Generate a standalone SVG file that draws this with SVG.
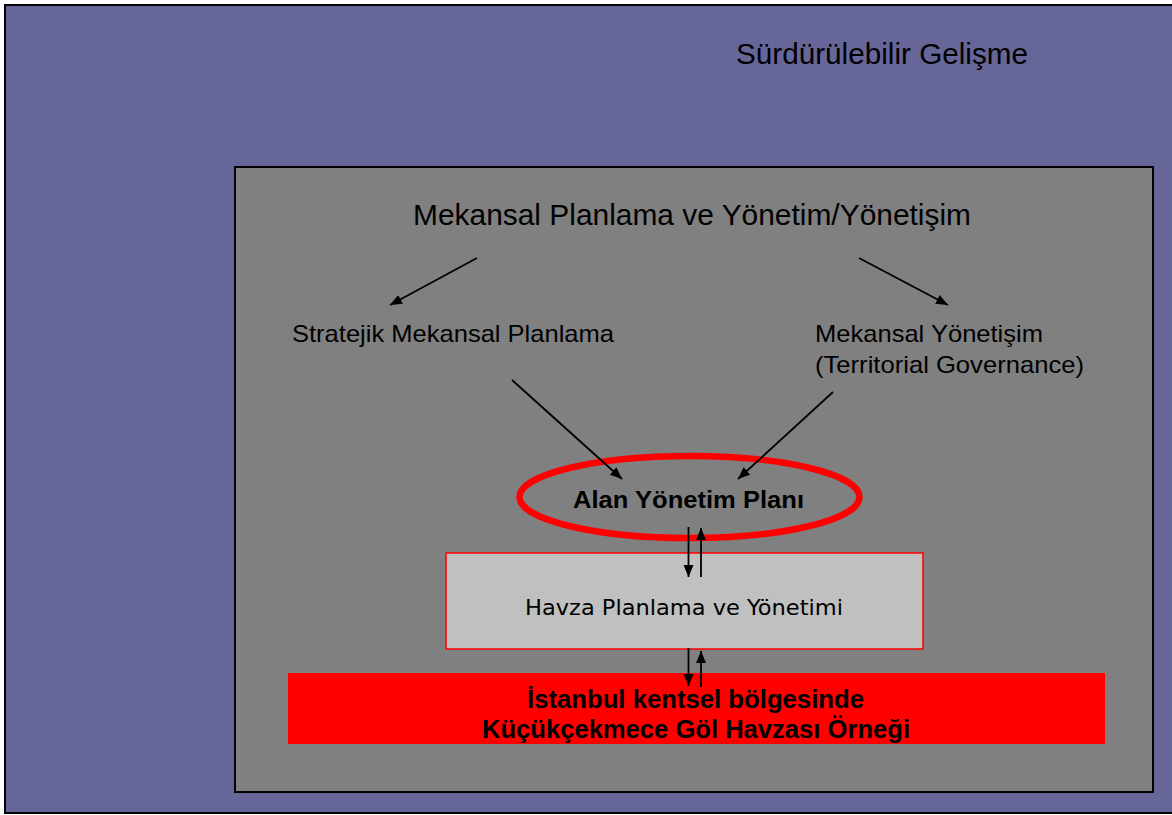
<svg xmlns="http://www.w3.org/2000/svg" width="1172" height="815" viewBox="0 0 1172 815">
  <style>
    .sans { font-family: "Liberation Sans", Arial, sans-serif; fill: #000; }
    .bold { font-weight: bold; }
    .tahoma { font-family: "DejaVu Sans", Verdana, sans-serif; fill: #000; }
    .conn { stroke: #000; stroke-width: 1.8; fill: none; marker-end: url(#arrow); }
  </style>
  <defs>
    <marker id="arrow" markerUnits="userSpaceOnUse" markerWidth="13" markerHeight="11" refX="12" refY="5" orient="auto">
      <path d="M0,0 L12,5 L0,10 Z" fill="#000"/>
    </marker>
  </defs>

  <rect x="0" y="0" width="1172" height="815" fill="#ffffff"/>

  <!-- outer frame: sustainable development -->
  <g id="surdurulebilir">
    <rect x="5" y="5" width="1180" height="808" fill="#666699" stroke="#000" stroke-width="2"/>
    <text class="sans" x="736" y="64" font-size="29.5" textLength="292" lengthAdjust="spacingAndGlyphs">Sürdürülebilir Gelişme</text>
  </g>

  <!-- inner frame: spatial planning and governance -->
  <g id="mekansal-planlama">
    <rect x="235" y="167" width="918" height="625" fill="#808080" stroke="#000" stroke-width="2"/>
    <text class="sans" x="413" y="225" font-size="29" textLength="558" lengthAdjust="spacingAndGlyphs">Mekansal Planlama ve Yönetim/Yönetişim</text>
  </g>

  <g id="stratejik">
    <text class="sans" x="292" y="342" font-size="24" textLength="322" lengthAdjust="spacingAndGlyphs">Stratejik Mekansal Planlama</text>
  </g>

  <g id="yonetisim">
    <text class="sans" x="815" y="342" font-size="24" textLength="228" lengthAdjust="spacingAndGlyphs">Mekansal Yönetişim</text>
    <text class="sans" x="815" y="373" font-size="24" textLength="269" lengthAdjust="spacingAndGlyphs">(Territorial Governance)</text>
  </g>

  <g id="alan-yonetim-plani">
    <ellipse cx="689.5" cy="497" rx="170" ry="41" fill="none" stroke="#ff0000" stroke-width="6.5"/>
    <text class="sans bold" x="573" y="508" font-size="24.5" textLength="231" lengthAdjust="spacingAndGlyphs">Alan Yönetim Planı</text>
  </g>

  <g id="havza">
    <rect x="446" y="553" width="477" height="96" fill="#c0c0c0" stroke="#ff0000" stroke-width="1.5"/>
    <text class="tahoma" x="525" y="615" font-size="20.5" textLength="318" lengthAdjust="spacingAndGlyphs">Havza Planlama ve Yönetimi</text>
  </g>

  <g id="kucukcekmece">
    <rect x="288" y="673" width="817" height="71" fill="#ff0000"/>
    <text class="sans bold" x="527" y="707.5" font-size="25" textLength="337" lengthAdjust="spacingAndGlyphs">İstanbul kentsel bölgesinde</text>
    <text class="sans bold" x="482" y="737.5" font-size="25" textLength="428" lengthAdjust="spacingAndGlyphs">Küçükçekmece Göl Havzası Örneği</text>
  </g>

  <!-- connectors -->
  <g id="connectors">
    <line class="conn" x1="477" y1="258" x2="390" y2="305"/>
    <line class="conn" x1="859" y1="258" x2="948" y2="305"/>
    <line class="conn" x1="512" y1="380" x2="622" y2="479"/>
    <line class="conn" x1="833" y1="392" x2="738" y2="479"/>
    <line class="conn" x1="688.5" y1="527" x2="688.5" y2="577"/>
    <line class="conn" x1="701" y1="577" x2="701" y2="528"/>
    <line class="conn" x1="688.5" y1="648" x2="688.5" y2="686"/>
    <line class="conn" x1="701" y1="687" x2="701" y2="651"/>
  </g>
</svg>
